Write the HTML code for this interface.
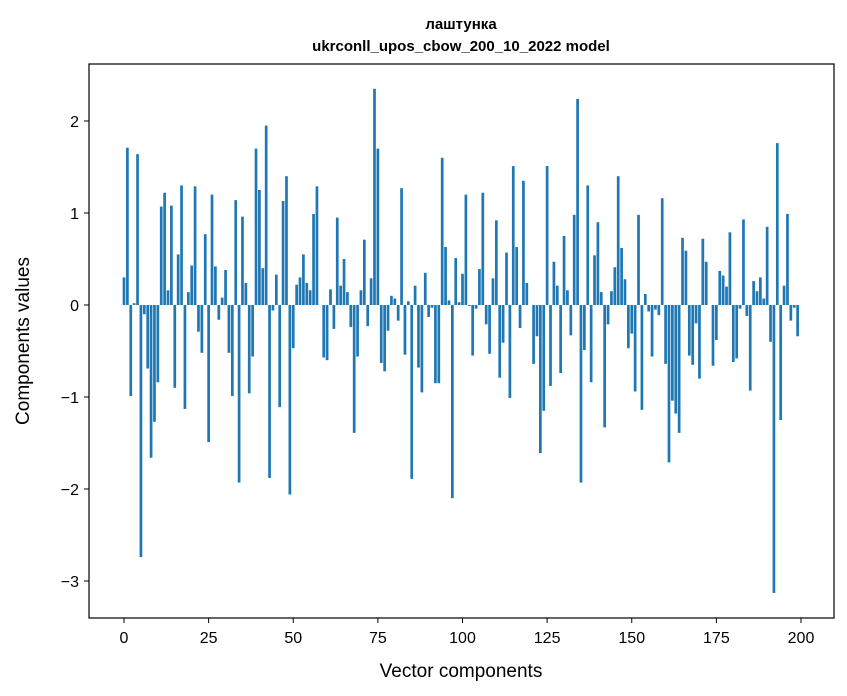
<!DOCTYPE html>
<html><head><meta charset="utf-8">
<style>
body{margin:0;background:#fff;}
svg{display:block;font-family:"Liberation Sans","DejaVu Sans",sans-serif;}
</style></head>
<body>
<svg id="chart" width="847" height="696" viewBox="0 0 847 696">
<text x="461" y="29" text-anchor="middle" font-size="15" font-weight="bold">лаштунка</text>
<text x="461" y="51" text-anchor="middle" font-size="15" font-weight="bold">ukrconll_upos_cbow_200_10_2022 model</text>
<g id="bars"></g>
<rect x="89" y="64" width="745" height="554" fill="none" stroke="#000" stroke-width="1.2"/>
<g id="xticks"></g>
<g id="yticks"></g>
<text x="461" y="677" text-anchor="middle" font-size="19">Vector components</text>
<text transform="translate(29,341) rotate(-90)" text-anchor="middle" font-size="19">Components values</text>
</svg>
<script>
const values = [0.30,1.71,-0.99,0.02,1.64,-2.74,-0.10,-0.69,-1.66,-1.27,
-0.84,1.07,1.22,0.16,1.08,-0.90,0.55,1.30,-1.13,0.14,
0.43,1.29,-0.29,-0.52,0.77,-1.49,1.20,0.42,-0.16,0.08,
0.38,-0.52,-0.99,1.14,-1.93,0.96,0.24,-0.96,-0.56,1.70,
1.25,0.40,1.95,-1.88,-0.06,0.33,-1.11,1.13,1.40,-2.06,
-0.47,0.22,0.30,0.55,0.24,0.16,0.99,1.29,0.0,-0.57,
-0.60,0.17,-0.26,0.95,0.21,0.50,0.14,-0.24,-1.39,-0.56,
0.16,0.71,-0.23,0.29,2.35,1.70,-0.63,-0.72,-0.28,0.10,
0.07,-0.17,1.27,-0.54,0.04,-1.89,0.21,-0.68,-0.95,0.35,
-0.13,-0.03,-0.85,-0.85,1.60,0.63,0.05,-2.10,0.51,0.03,
0.34,1.20,-0.01,-0.55,-0.04,0.39,1.22,-0.21,-0.53,0.29,
0.92,-0.79,-0.41,0.57,-1.01,1.51,0.63,-0.25,1.35,0.24,
0.0,-0.64,-0.34,-1.61,-1.15,1.51,-0.88,0.47,0.21,-0.74,
0.75,0.16,-0.33,0.98,2.24,-1.93,-0.49,1.30,-0.84,0.54,
0.90,0.14,-1.33,-0.21,0.15,0.41,1.40,0.62,0.28,-0.47,
-0.31,-0.94,0.98,-1.14,0.12,-0.07,-0.56,-0.05,-0.11,1.16,
-0.64,-1.71,-1.04,-1.18,-1.39,0.73,0.59,-0.55,-0.65,-0.20,
-0.80,0.72,0.47,0.0,-0.66,-0.38,0.37,0.32,0.20,0.79,
-0.62,-0.58,-0.04,0.93,-0.12,-0.93,0.26,0.15,0.30,0.07,
0.85,-0.40,-3.13,1.76,-1.25,0.21,0.99,-0.17,-0.03,-0.34];
const xTickValues = [0,25,50,75,100,125,150,175,200];
const yTickValues = [-3,-2,-1,0,1,2];
const yTickLabels = ["\u22123","\u22122","\u22121","0","1","2"];

const NS="http://www.w3.org/2000/svg";
function xScale(v){return 124 + v*3.385;}
function yScale(v){return 305 - v*92;}
const bw = 0.8*3.385;
const gb=document.getElementById('bars');
values.forEach((v,i)=>{
  const r=document.createElementNS(NS,'rect');
  const y0=yScale(0), y1=yScale(v);
  r.setAttribute('x',xScale(i)-bw/2);
  r.setAttribute('y',Math.min(y0,y1));
  r.setAttribute('width',bw);
  r.setAttribute('height',Math.abs(y1-y0));
  r.setAttribute('fill','#1f77b4');
  
  
  gb.appendChild(r);
});
const gx=document.getElementById('xticks');
xTickValues.forEach(v=>{
  const x=xScale(v);
  const l=document.createElementNS(NS,'line');
  l.setAttribute('x1',x);l.setAttribute('x2',x);l.setAttribute('y1',618);l.setAttribute('y2',623);
  l.setAttribute('stroke','#000');
  
  
  gx.appendChild(l);
  const t=document.createElementNS(NS,'text');
  t.setAttribute('x',x);t.setAttribute('y',643);t.setAttribute('text-anchor','middle');t.setAttribute('font-size','16');
  t.textContent=v;
  
  
  gx.appendChild(t);
});
const gy=document.getElementById('yticks');
yTickValues.forEach((v,i)=>{
  const y=yScale(v);
  const l=document.createElementNS(NS,'line');
  l.setAttribute('x1',84);l.setAttribute('x2',89);l.setAttribute('y1',y);l.setAttribute('y2',y);
  l.setAttribute('stroke','#000');
  
  
  gy.appendChild(l);
  const t=document.createElementNS(NS,'text');
  t.setAttribute('x',79);t.setAttribute('y',y+6);t.setAttribute('text-anchor','end');t.setAttribute('font-size','16');
  t.textContent=yTickLabels[i];
  
  
  gy.appendChild(t);
});
</script>
</body></html>
